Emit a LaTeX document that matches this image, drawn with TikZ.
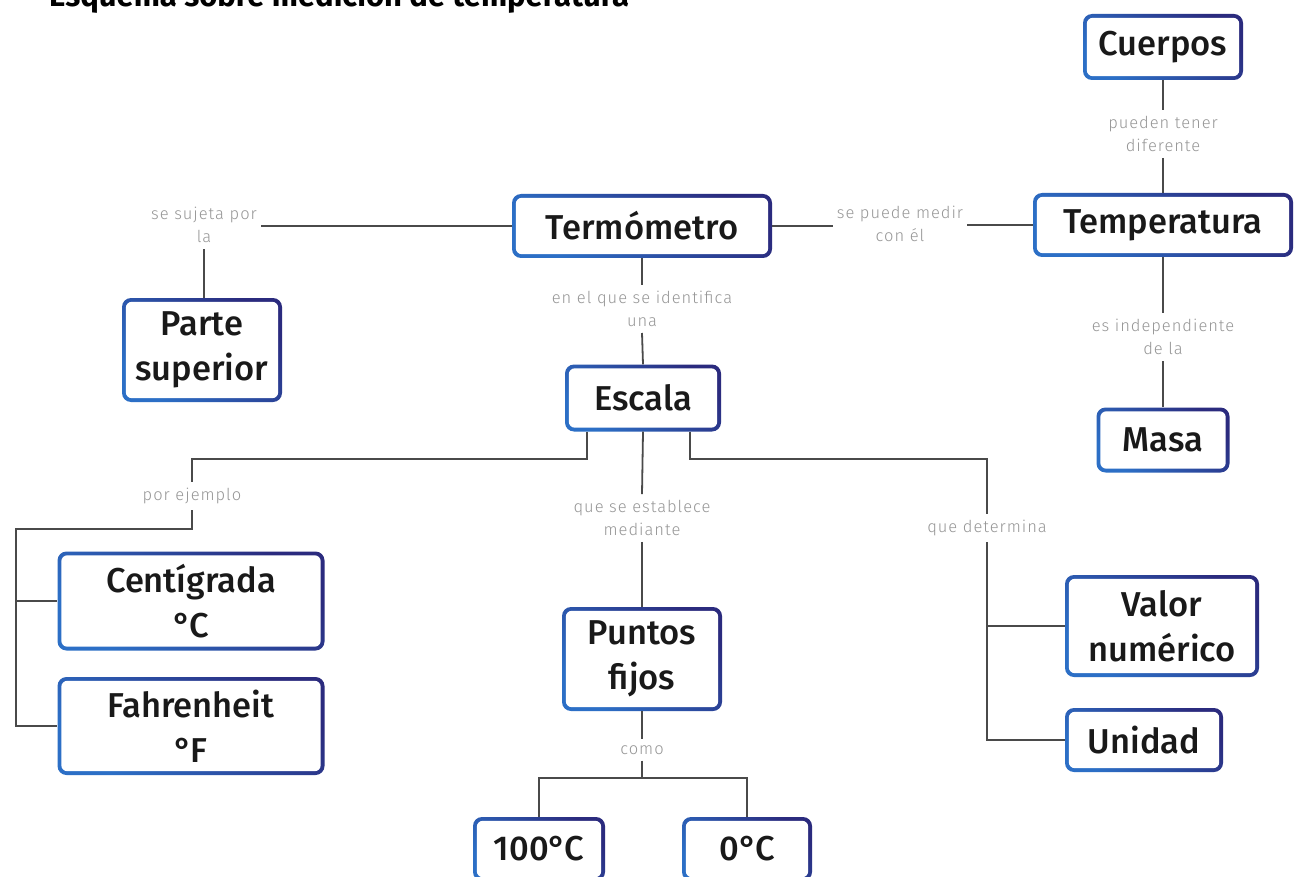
\documentclass[tikz,border=0pt]{standalone}
\usepackage{fontspec}
\setmainfont{Fira Sans}
\newfontfamily\boxfont{Fira Sans}[UprightFont={* Medium}]
\newfontfamily\notefont{Fira Sans}[UprightFont={* Light}, LetterSpace=6]
\newfontfamily\headfont{Fira Sans}[UprightFont={* Bold}]
\usetikzlibrary{calc}
\definecolor{edgeblue}{HTML}{2C6FC6}
\definecolor{edgenavy}{HTML}{2B2B7E}
\definecolor{wire}{HTML}{4A4A4A}
\definecolor{notegray}{HTML}{969696}
\newcommand{\degC}{°\kern-0.06em C}
\newcommand{\degF}{°\kern-0.05em F}
\tikzset{
  concept/.style={rounded corners=9pt, inner sep=0pt, align=center, text=black!90,
    font=\boxfont\fontsize{34.5}{45}\selectfont,
    left color=edgeblue, right color=edgenavy, shading angle=135,
    path picture={\fill[white, rounded corners=6pt]
      ($(path picture bounding box.south west)+(3.8pt,3.8pt)$) rectangle
      ($(path picture bounding box.north east)+(-3.8pt,-3.8pt)$);}},
  link/.style={draw=wire, line width=1.8pt},
  note/.style={text=notegray, align=center, font=\notefont\fontsize{16.5}{23}\selectfont,
    inner xsep=4pt, inner ysep=6pt}
}
\begin{document}
\begin{tikzpicture}[x=1pt, y=-1pt]
\useasboundingbox (0,0) rectangle (1295,877);
\clip (0,0) rectangle (1295,877);
\fill[white] (0,0) rectangle (1295,877);

% heading, partly above the page edge
\node[anchor=base west, inner sep=0pt, font=\headfont\fontsize{31}{34}\selectfont] (title) at (49,7) {Esquema sobre medición de temperatura};

% concept boxes
\node[concept, minimum width=160pt, minimum height=66pt] (cuerpos) at (1163,47) {Cuerpos};
\node[concept, minimum width=260pt, minimum height=64pt] (temp) at (1163,225) {Temperatura};
\node[concept, minimum width=260pt, minimum height=64pt] (termo) at (642,226) {Termómetro};
\node[concept, minimum width=160pt, minimum height=104pt] (parte) at (202,350) {Parte\\superior};
\node[concept, minimum width=156pt, minimum height=67pt] (escala) at (643,398) {Escala};
\node[concept, minimum width=133pt, minimum height=65pt] (masa) at (1163,440) {Masa};
\node[concept, minimum width=267pt, minimum height=99pt] (centi) at (191,601) {Centígrada\\\degC};
\node[concept, minimum width=267pt, minimum height=98pt] (fahr) at (191,726) {Fahrenheit\\\degF};
\node[concept, minimum width=160pt, minimum height=104pt] (puntos) at (642,659) {Puntos\\fijos};
\node[concept, minimum width=194pt, minimum height=102pt] (valor) at (1162,626) {Valor\\numérico};
\node[concept, minimum width=158pt, minimum height=64pt] (unidad) at (1144,740) {Unidad};
\node[concept, minimum width=132pt, minimum height=64pt] (cien) at (539,849) {100\degC};
\node[concept, minimum width=130pt, minimum height=64pt] (cero) at (747,849) {0\degC};

% linking phrases
\node[note] (l1) at (1163,134) {pueden tener\\diferente};
\node[note] (l2) at (900,224) {se puede medir\\con él};
\node[note] (l3) at (204,225) {se sujeta por\\la};
\node[note] (l4) at (642,309) {en el que se identifica\\una};
\node[note] (l5) at (192,496) {por ejemplo};
\node[note] (l6) at (642,518) {que se establece\\mediante};
\node[note] (l7) at (987,528) {que determina};
\node[note] (l8) at (1163,337) {es independiente\\de la};
\node[note] (l9) at (642,750) {como};

% junction points
\coordinate (bendL) at (192,459);
\coordinate (railL) at (16,529);
\coordinate (bendR) at (987,459);
\coordinate (split) at (642,778);

% connectors
\draw[link] (cuerpos.south) -- (l1.north);
\draw[link] (l1.south) -- (temp.north);
\draw[link] (termo.east) -- (termo.east -| l2.west);
\draw[link] (temp.west -| l2.east) -- (temp.west);
\draw[link] (termo.west) -- (termo.west -| l3.east);
\draw[link] (l3.south) -- (l3.south |- parte.north);
\draw[link] (termo.south) -- (l4.north);
\draw[link] (l4.south) -- (escala.north);
\draw[link] (temp.south) -- (l8.north);
\draw[link] (l8.south) -- (masa.north);
\draw[link] ([xshift=-56pt]escala.south) |- (bendL) -- (l5.north);
\draw[link] (l5.south) -- (l5.south |- railL) -- (railL) -- (railL |- fahr.west) -- (fahr.west);
\draw[link] (railL |- centi.west) -- (centi.west);
\draw[link] (escala.south) -- (l6.north);
\draw[link] (l6.south) -- (puntos.north);
\draw[link] ([xshift=47pt]escala.south) |- (bendR) -- (l7.north);
\draw[link] (l7.south) -- (l7.south |- unidad.west) -- (unidad.west);
\draw[link] (l7.south |- valor.west) -- (valor.west);
\draw[link] (puntos.south) -- (l9.north);
\draw[link] (l9.south) -- (split);
\draw[link] (cien.north) |- (split) -| (cero.north);
\end{tikzpicture}
\end{document}
